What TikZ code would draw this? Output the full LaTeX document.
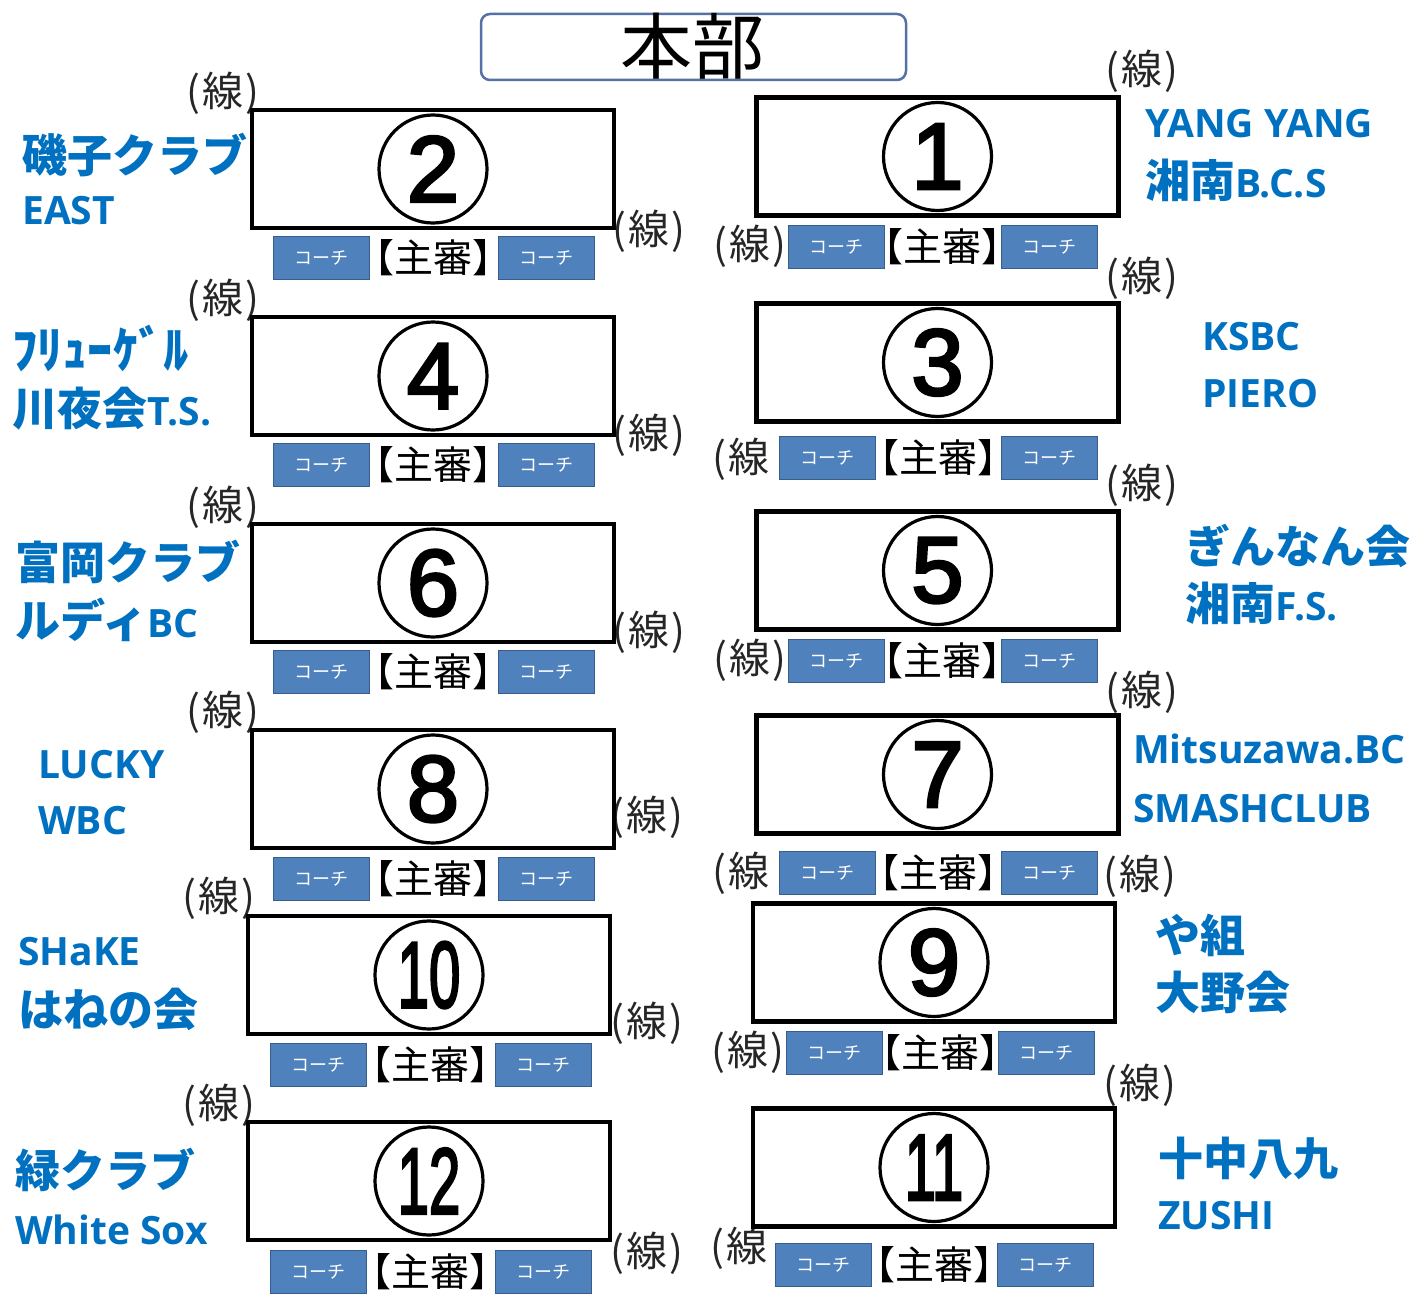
\documentclass[tikz,border=0pt]{standalone}
\usepackage{graphicx}
\usepackage{fontspec}
\setmainfont{Noto Sans CJK JP}
\newfontfamily\jp{Noto Sans CJK JP}
\newfontfamily\lat{Open Sans}
\newfontfamily\dig[FakeBold=3]{Liberation Sans}
\definecolor{teamblue}{RGB}{0,112,192}
\definecolor{coachfill}{RGB}{79,129,189}
\definecolor{coachedge}{RGB}{56,93,138}
\definecolor{hqedge}{RGB}{84,114,165}
\newcommand\tj[1]{{\jp\fontsize{45}{50}\selectfont #1}}
\newcommand\tl[1]{{\lat\fontsize{39}{44}\selectfont #1}}
\newcommand\mkcourt[4]{\node[courtrect] (b#1) at (#2,#3) {};
  \node[numcirc] (n#1) at (#2,#3) {#4};}
\newcommand\mkjudge[4]{\node[coach] (ca#1) at (#2,#4) {コーチ};
  \node[coach] (cb#1) at (#3,#4) {コーチ};
  \path (ca#1.east) -- (cb#1.west) node[midway, judgetext] (j#1) {【主審】};}
\newcommand\mksen[4][(\kern2pt線\kern2pt)]{\node[sentext] (#2) at (#3,#4) {#1};}
\newcommand\dd[1]{\scalebox{0.6}[1]{#1}}
\begin{document}
\begin{tikzpicture}[x=1pt,y=-1pt,
  courtrect/.style={draw, line width=4.5pt, minimum width=362pt, minimum height=118pt, inner sep=0},
  numcirc/.style={draw, circle, line width=3.2pt, minimum size=108pt, inner sep=0, font=\dig\fontsize{94}{94}\selectfont},
  coach/.style={draw=coachedge, fill=coachfill, line width=1pt, minimum width=96pt, minimum height=43pt, inner sep=0, text=white, font=\jp\fontsize{18}{18}\selectfont},
  judgetext/.style={inner sep=0, font=\jp\fontsize{39}{39}\selectfont},
  sentext/.style={inner sep=0, text=black!85, font=\jp\fontsize{41}{41}\selectfont},
  team/.style={anchor=base west, inner sep=0, text=teamblue, font=\bfseries}]
\useasboundingbox (0,0) rectangle (1411,1306);
% headquarters
\node[draw=hqedge, line width=2.5pt, rounded corners=9pt, minimum width=425pt, minimum height=66pt, inner sep=0] (hq) at (693.5,47) {};
\node[anchor=base, inner sep=0, font=\jp\fontsize{72}{72}\selectfont] (hqt) at (692,74) {本部};
% line-judge labels (under the coach boxes)
\mksen{s2a}{223}{93}   \mksen{s2b}{649}{231}
\mksen{s4a}{223}{300}  \mksen{s4b}{649}{435}
\mksen{s6a}{223}{507}  \mksen{s6b}{649}{632}
\mksen{s8a}{223}{712}  \mksen{s8b}{647}{817}
\mksen{s10a}{219}{898} \mksen{s10b}{647}{1023}
\mksen{s12a}{219}{1105} \mksen{s12b}{647}{1253}
\mksen{s1a}{1142}{71}  \mksen{s1b}{750}{246}
\mksen{s3a}{1142}{278} \mksen[(\kern2pt線]{s3b}{741}{459}
\mksen{s5a}{1142}{485} \mksen{s5b}{750}{660}
\mksen{s7a}{1142}{692} \mksen[(\kern2pt線]{s7b}{741}{873}
\mksen{s9a}{1140}{876} \mksen{s9b}{748}{1052}
\mksen{s11a}{1140}{1085} \mksen[(\kern2pt線]{s11b}{739}{1248}
% courts
\mkcourt{2}{433}{169}{2}
\mkcourt{4}{433}{376}{4}
\mkcourt{6}{433}{583}{6}
\mkcourt{8}{433}{789}{8}
\mkcourt{10}{429}{975}{\dd{10}}
\mkcourt{12}{429}{1181}{\dd{12}}
\mkcourt{1}{937.5}{156.5}{1}
\mkcourt{3}{937.5}{362.5}{3}
\mkcourt{5}{937.5}{570.5}{5}
\mkcourt{7}{937.5}{774.5}{7}
\mkcourt{9}{934}{962.5}{9}
\mkcourt{11}{934}{1167.5}{\dd{11}}
% coaches and umpire
\mkjudge{2}{321}{546.5}{257.5}
\mkjudge{4}{321}{546.5}{464.5}
\mkjudge{6}{321}{546.5}{671.5}
\mkjudge{8}{321}{546.5}{878.5}
\mkjudge{10}{318}{543}{1064.5}
\mkjudge{12}{318}{543}{1271.5}
\mkjudge{1}{836}{1049}{247}
\mkjudge{3}{827}{1049}{458}
\mkjudge{5}{836}{1049}{661}
\mkjudge{7}{827}{1049}{873}
\mkjudge{9}{834}{1046}{1053}
\mkjudge{11}{823}{1045}{1264.5}
% teams left
\node[team] (t2a) at (22,172) {\tj{磯子クラブ}};
\node[team] (t2b) at (22,224) {\tl{EAST}};
\node[team] (t4a) at (12,368) {\tj{\scalebox{1.12}[1.12]{ﾌﾘｭｰｹﾞﾙ}}};
\node[team] (t4b) at (12,425) {\tj{川夜会}\tl{T.S.}};
\node[team] (t6a) at (15,579) {\tj{富岡クラブ}};
\node[team] (t6b) at (15,637) {\tj{ルディ}\tl{BC}};
\node[team] (t8a) at (38,778) {\tl{LUCKY}};
\node[team] (t8b) at (38,834) {\tl{WBC}};
\node[team] (t10a) at (18,965) {\tl{SHaKE}};
\node[team] (t10b) at (18,1026) {\tj{はねの会}};
\node[team] (t12a) at (15,1187) {\tj{緑クラブ}};
\node[team] (t12b) at (15,1244) {\tl{White Sox}};
% teams right
\node[team] (t1a) at (1145,137) {\tl{YANG YANG}};
\node[team] (t1b) at (1145,197) {\tj{湘南}\tl{B.C.S}};
\node[team] (t3a) at (1202,350) {\tl{KSBC}};
\node[team] (t3b) at (1202,407) {\tl{PIERO}};
\node[team] (t5a) at (1185,563) {\tj{ぎんなん会}};
\node[team] (t5b) at (1185,620) {\tj{湘南}\tl{F.S.}};
\node[team] (t7a) at (1133,763) {\tl{Mitsuzawa.BC}};
\node[team] (t7b) at (1133,822) {\tl{SMASHCLUB}};
\node[team] (t9a) at (1155,952) {\tj{や組}};
\node[team] (t9b) at (1155,1009) {\tj{大野会}};
\node[team] (t11a) at (1158,1175) {\tj{十中八九}};
\node[team] (t11b) at (1158,1229) {\tl{ZUSHI}};
\end{tikzpicture}
\end{document}
